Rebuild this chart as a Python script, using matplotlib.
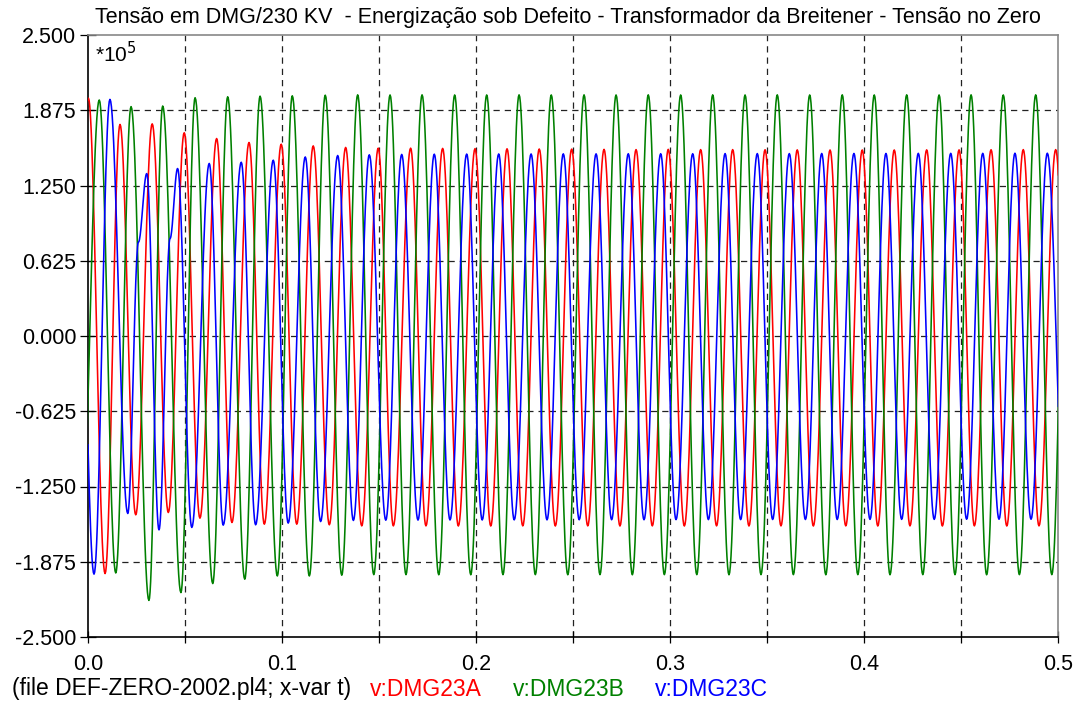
import numpy as np
import matplotlib
matplotlib.use("Agg")
import matplotlib.pyplot as plt
from matplotlib.ticker import MultipleLocator, FixedLocator

plt.rcParams["font.family"] = ["Liberation Sans", "DejaVu Sans"]

# Turning points (time in ms, voltage in units of 1e5 V) for each phase.
# Each list also holds one turning point just outside 0..500 ms so the
# waveform runs up to the axis edges.
t_a = [-8.2, 0.2, 8.8, 16.5, 24.6, 33.1, 41.4, 49.6, 57.7, 66.3, 74.2, 83.0,
       90.9, 99.6, 107.6, 116.1, 124.4, 132.8, 141.1, 149.6, 157.4, 166.3,
       174.2, 182.8, 190.9, 199.5, 207.6, 216.0, 224.1, 232.6, 240.9, 249.3,
       257.6, 266.0, 274.2, 282.5, 290.9, 299.1, 307.4, 315.8, 324.0, 332.3,
       340.7, 349.0, 357.2, 365.6, 373.9, 382.5, 390.6, 399.1, 407.1, 415.6,
       423.7, 432.3, 440.4, 449.0, 456.9, 465.5, 473.6, 482.1, 490.2, 498.8,
       507.2]
v_a = [-1.90, 1.975, -1.973, 1.757, -1.485, 1.762, -1.466, 1.688, -1.513,
       1.640, -1.549, 1.607, -1.563, 1.593, -1.563, 1.579, -1.568, 1.566,
       -1.577, 1.560, -1.577, 1.560, -1.577, 1.558, -1.578, 1.556, -1.578,
       1.555, -1.577, 1.553, -1.578, 1.552, -1.577, 1.550, -1.578, 1.548,
       -1.577, 1.550, -1.578, 1.548, -1.577, 1.548, -1.578, 1.547, -1.577,
       1.546, -1.578, 1.545, -1.577, 1.545, -1.578, 1.545, -1.577, 1.546,
       -1.578, 1.546, -1.577, 1.547, -1.578, 1.548, -1.577, 1.548, -1.577]

t_b = [-4.1, 5.8, 14.3, 22.2, 31.4, 38.5, 47.9, 55.2, 64.3, 72.0, 80.8, 88.7,
       97.6, 105.3, 114.1, 122.3, 130.8, 139.0, 147.3, 155.7, 163.9, 172.2,
       180.8, 189.0, 197.3, 205.5, 213.9, 222.2, 230.6, 238.8, 247.3, 255.7,
       263.9, 272.2, 280.6, 288.8, 297.1, 305.5, 313.8, 322.0, 330.4, 338.7,
       346.9, 355.3, 363.6, 372.0, 380.3, 388.8, 396.8, 405.3, 413.4, 422.0,
       430.3, 438.7, 446.9, 455.2, 463.2, 471.8, 480.1, 488.5, 496.8, 505.2]
v_b = [-1.97, 1.960, -1.968, 1.905, -2.196, 1.910, -2.131, 1.979, -2.056,
       1.987, -2.020, 1.992, -1.993, 1.995, -1.993, 2.000, -1.987, 2.003,
       -1.982, 2.002, -1.982, 2.003, -1.983, 2.002, -1.983, 2.002, -1.982,
       2.003, -1.982, 2.002, -1.983, 2.003, -1.982, 2.002, -1.983, 2.003,
       -1.982, 2.002, -1.982, 2.003, -1.983, 2.002, -1.982, 2.003, -1.982,
       2.002, -1.983, 2.003, -1.982, 2.002, -1.983, 2.003, -1.982, 2.002,
       -1.982, 2.003, -1.983, 2.002, -1.982, 2.003, -1.982, 2.002]

# phase C shows a shoulder on the rising edge during the first two cycles
t_c = [-5.2, 3.1, 11.3, 20.5, 26.0, 30.3, 36.6, 42.3, 46.2, 53.5,
       62.5, 69.7, 79.0, 86.4, 95.5, 103.2, 112.0, 119.9, 128.7, 136.8, 145.0,
       153.5, 161.7, 170.1, 178.5, 186.6, 195.2, 203.2, 211.7, 219.7, 228.4,
       236.6, 245.0, 253.2, 261.9, 269.9, 278.5, 286.6, 295.2, 303.1, 311.7,
       319.8, 328.4, 336.4, 345.0, 352.9, 361.5, 369.8, 378.2, 386.2, 394.8,
       403.1, 411.3, 419.4, 428.0, 436.2, 444.7, 452.9, 461.2, 469.6, 477.8,
       486.1, 494.5, 503.6]
v_c = [1.50, -1.978, 1.965, -1.474, 0.78, 1.349, -1.610, 0.81,
       1.391, -1.590, 1.433, -1.571, 1.443, -1.568, 1.460, -1.554, 1.487,
       -1.541, 1.499, -1.532, 1.505, -1.530, 1.508, -1.529, 1.510, -1.528,
       1.511, -1.528, 1.512, -1.527, 1.512, -1.527, 1.513, -1.526, 1.513,
       -1.526, 1.514, -1.526, 1.514, -1.525, 1.514, -1.525, 1.515, -1.525,
       1.515, -1.524, 1.515, -1.524, 1.516, -1.524, 1.516, -1.523, 1.516,
       -1.523, 1.517, -1.523, 1.517, -1.522, 1.517, -1.522, 1.518, -1.522,
       1.518, -1.522]

series = [
    ("v:DMG23A", t_a, v_a, "#ff0000"),
    ("v:DMG23B", t_b, v_b, "#008000"),
    ("v:DMG23C", t_c, v_c, "#0000ff"),
]

title = ("Tensão em DMG/230 KV  - Energização sob Defeito - "
         "Transformador da Breitener - Tensão no Zero")
file_note = "(file DEF-ZERO-2002.pl4; x-var t)"


def trace(t_ms, v, n=24):
    """Smooth half-cosine swing between successive turning points."""
    t_ms = np.asarray(t_ms, float)
    v = np.asarray(v, float)
    s = np.linspace(0.0, 1.0, n, endpoint=False)
    w = (1.0 - np.cos(np.pi * s)) / 2.0
    tt = (t_ms[:-1, None] + (t_ms[1:] - t_ms[:-1])[:, None] * s).ravel()
    vv = (v[:-1, None] + (v[1:] - v[:-1])[:, None] * w).ravel()
    tt = np.append(tt, t_ms[-1])
    vv = np.append(vv, v[-1])
    return tt / 1000.0, vv


W, H = 1080, 705
fig = plt.figure(figsize=(W / 100, H / 100), dpi=100)
x0, x1, y0, y1 = 88, 1058, 35, 637
ax = fig.add_axes([x0 / W, 1 - y1 / H, (x1 - x0) / W, (y1 - y0) / H])

for name, t, v, col in series:
    tt, vv = trace(t, v)
    ax.plot(tt, vv, color=col, lw=1.15, solid_joinstyle="round", zorder=3)

ax.set_xlim(0.0, 0.5)
ax.set_ylim(-2.5, 2.5)

yt = np.arange(-2.5, 2.5001, 0.625)
ax.yaxis.set_major_locator(FixedLocator(yt))
ax.set_yticklabels([f"{y:.3f}" for y in yt])
ax.xaxis.set_major_locator(MultipleLocator(0.1))
ax.xaxis.set_minor_locator(MultipleLocator(0.05))
ax.xaxis.set_major_formatter(plt.FuncFormatter(lambda x, p: f"{x:.1f}"))

# dashed grid on every y step and every 0.05 s
for y in yt[1:-1]:
    ax.axhline(y, color="#222222", lw=0.9, ls=(0, (5, 4)), zorder=1)
for x in np.arange(0.05, 0.5, 0.05):
    ax.axvline(x, color="#222222", lw=0.9, ls=(0, (5, 4)), zorder=1)

ax.tick_params(axis="y", direction="inout", length=11, width=0.9,
               labelsize=15.5, pad=3, colors="black")
ax.tick_params(axis="x", which="both", direction="inout", length=8,
               width=0.9, labelsize=15.5, pad=8)

for side in ("left", "bottom"):
    ax.spines[side].set_color("black")
    ax.spines[side].set_linewidth(1.2)
for side in ("top", "right"):
    ax.spines[side].set_color("#888888")
    ax.spines[side].set_linewidth(1.2)

ax.text(0.007, 0.99, r"*10$^5$", transform=ax.transAxes, ha="left",
        va="top", fontsize=15)

fig.text(568 / W, 1 - 18 / H, title, ha="center", va="center", fontsize=15.5)

# footer: file note followed by coloured series names
fy = 1 - 689 / H
fig.text(12 / W, fy, file_note, ha="left", va="center", fontsize=16.5)
for (name, _, _, col), xpx in zip(series, (370, 513, 655)):
    fig.text(xpx / W, fy, name, ha="left", va="center", fontsize=16.5,
             color=col)

fig.savefig("out.png", dpi=100)
